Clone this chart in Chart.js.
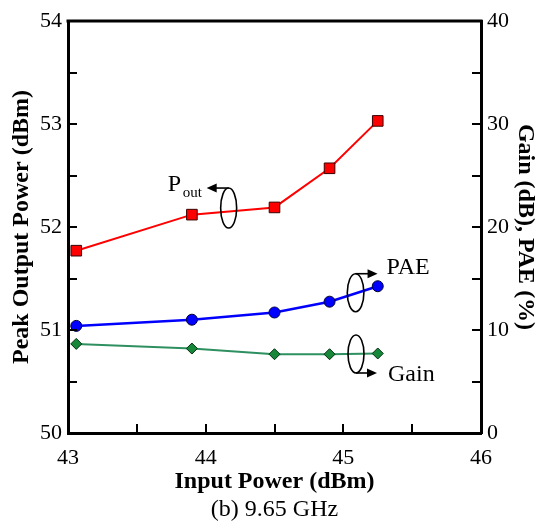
<!DOCTYPE html>
<html>
<head>
<meta charset="utf-8">
<script src="https://cdn.jsdelivr.net/npm/chart.js@4"></script>
<style>
  html, body { margin: 0; padding: 0; background: #fff; }
  #wrap { width: 545px; height: 527px; }
</style>
</head>
<body>
<div id="wrap"><canvas id="c" width="545" height="527"></canvas></div>
<script>
// ---- data ----
const inputPower = [43.06, 43.9, 44.5, 44.9, 45.25];
const poutValues = [51.77, 52.12, 52.19, 52.57, 53.03];
const paeValues  = [10.4, 11.0, 11.7, 12.75, 14.25];
const gainValues = [8.65, 8.2, 7.65, 7.65, 7.72];

const xTickStep = 0.5;      // labels only on integers
const yLeftTickStep = 0.5;  // labels only on integers
const yRightTickStep = 5;   // labels on multiples of 10

const xTitle = 'Input Power (dBm)';
const yLeftTitle = 'Peak Output Power (dBm)';
const yRightTitle = 'Gain (dB), PAE (%)';
const caption = '(b) 9.65 GHz';

const SERIF = '"Liberation Serif", "Times New Roman", serif';
Chart.defaults.font.family = SERIF;
Chart.defaults.color = '#000';

function pts(xs, ys) { return xs.map((x, i) => ({x, y: ys[i]})); }

const inwardTicks = {
  id: 'inwardTicks',
  afterDraw(chart) {
    const {ctx, chartArea: a, scales} = chart;
    ctx.save();
    ctx.strokeStyle = '#000';
    ctx.lineWidth = 2;
    const L = 9;
    scales.x.ticks.forEach(t => {
      const p = Math.round(scales.x.getPixelForValue(t.value));
      ctx.beginPath(); ctx.moveTo(p, a.bottom); ctx.lineTo(p, a.bottom - L); ctx.stroke();
    });
    scales.y.ticks.forEach(t => {
      const p = Math.round(scales.y.getPixelForValue(t.value));
      ctx.beginPath(); ctx.moveTo(a.left, p); ctx.lineTo(a.left + L, p); ctx.stroke();
    });
    scales.y1.ticks.forEach(t => {
      const p = Math.round(scales.y1.getPixelForValue(t.value));
      ctx.beginPath(); ctx.moveTo(a.right, p); ctx.lineTo(a.right - L, p); ctx.stroke();
    });
    // top frame
    ctx.lineWidth = 3;
    ctx.beginPath(); ctx.moveTo(a.left - 1.5, a.top); ctx.lineTo(a.right + 1.5, a.top); ctx.stroke();
    ctx.restore();
  }
};

function arrow(ctx, x0, y, x1) {
  const dir = Math.sign(x1 - x0);
  ctx.beginPath(); ctx.moveTo(x0, y); ctx.lineTo(x1 - dir * 6, y); ctx.stroke();
  ctx.beginPath();
  ctx.moveTo(x1, y);
  ctx.lineTo(x1 - dir * 10, y - 4.5);
  ctx.lineTo(x1 - dir * 10, y + 4.5);
  ctx.closePath(); ctx.fill();
}

const annotationsPlugin = {
  id: 'annots',
  afterDraw(chart) {
    const {ctx, scales} = chart;
    const X = v => scales.x.getPixelForValue(v);
    const YL = v => scales.y.getPixelForValue(v);
    const YR = v => scales.y1.getPixelForValue(v);
    ctx.save();
    ctx.strokeStyle = '#000';
    ctx.fillStyle = '#000';
    ctx.lineWidth = 1.6;
    ctx.textAlign = 'left';
    ctx.textBaseline = 'alphabetic';

    // Pout
    let cx = X(44.167), cy = YL(52.184), rx = 8, ry = 20;
    ctx.beginPath(); ctx.ellipse(cx, cy, rx, ry, 0, 0, Math.PI * 2); ctx.stroke();
    arrow(ctx, cx, cy - ry, cx - 22);
    ctx.font = '24px ' + SERIF;
    ctx.fillText('P', cx - 61, cy - ry + 3);
    ctx.font = '15px ' + SERIF;
    ctx.fillText('out', cx - 46, cy - ry + 9);

    // PAE
    cx = X(45.089); cy = YR(13.62); rx = 8.3; ry = 19;
    ctx.beginPath(); ctx.ellipse(cx, cy, rx, ry, 0, 0, Math.PI * 2); ctx.stroke();
    arrow(ctx, cx, cy - ry, cx + 22);
    ctx.font = '24px ' + SERIF;
    ctx.fillText('PAE', cx + 31, cy - ry);

    // Gain
    cx = X(45.092); cy = YR(7.67); rx = 8; ry = 19;
    ctx.beginPath(); ctx.ellipse(cx, cy, rx, ry, 0, 0, Math.PI * 2); ctx.stroke();
    arrow(ctx, cx, cy + ry, cx + 21);
    ctx.font = '24px ' + SERIF;
    ctx.fillText('Gain', cx + 32, cy + ry + 8);

    // caption
    ctx.textAlign = 'center';
    ctx.font = '24px ' + SERIF;
    const a = chart.chartArea;
    ctx.fillText(caption, (a.left + a.right) / 2, 516);
    ctx.restore();
  }
};

new Chart(document.getElementById('c'), {
  type: 'line',
  data: {
    datasets: [
      {
        label: 'Pout',
        data: pts(inputPower, poutValues),
        yAxisID: 'y',
        borderColor: '#ff0000',
        borderWidth: 2,
        backgroundColor: '#ff0000',
        pointStyle: 'rect',
        pointRadius: 7.5,
        pointBorderColor: '#3a0000',
        pointBorderWidth: 1,
        tension: 0
      },
      {
        label: 'PAE',
        data: pts(inputPower, paeValues),
        yAxisID: 'y1',
        borderColor: '#0000ff',
        borderWidth: 2.5,
        backgroundColor: '#0000ff',
        pointStyle: 'circle',
        pointRadius: 5.5,
        pointBorderColor: '#00003a',
        pointBorderWidth: 1,
        tension: 0
      },
      {
        label: 'Gain',
        data: pts(inputPower, gainValues),
        yAxisID: 'y1',
        borderColor: '#2e9060',
        borderWidth: 2,
        backgroundColor: '#17873a',
        pointStyle: 'rectRot',
        pointRadius: 5.5,
        pointBorderColor: '#003010',
        pointBorderWidth: 1,
        tension: 0
      }
    ]
  },
  options: {
    responsive: false,
    animation: false,
    devicePixelRatio: 1,
    layout: { padding: { top: 21, left: 0, right: 0, bottom: 0 } },
    plugins: { legend: { display: false }, tooltip: { enabled: false }, title: { display: false } },
    scales: {
      x: {
        type: 'linear',
        min: 43, max: 46,
        afterFit: s => { s.height = 94; },
        grid: { display: false, drawTicks: false },
        border: { display: true, color: '#000', width: 3 },
        ticks: {
          stepSize: xTickStep, autoSkip: false, maxRotation: 0, padding: 12,
          color: '#000', font: { family: SERIF, size: 22 },
          callback: v => Number.isInteger(v) ? String(v) : ''
        },
        title: {
          display: true, text: xTitle, color: '#000',
          font: { family: SERIF, size: 24, weight: 'bold' },
          padding: { top: 0, bottom: 31 }
        }
      },
      y: {
        type: 'linear', position: 'left',
        min: 50, max: 54,
        afterFit: s => { s.width = 68; },
        grid: { display: false, drawTicks: false },
        border: { display: true, color: '#000', width: 3 },
        ticks: {
          stepSize: yLeftTickStep, autoSkip: false, padding: 6,
          color: '#000', font: { family: SERIF, size: 22 },
          callback: v => Number.isInteger(v) ? String(v) : ''
        },
        title: {
          display: true, text: yLeftTitle, color: '#000',
          font: { family: SERIF, size: 24, weight: 'bold' },
          padding: { top: 7, bottom: 0 }
        }
      },
      y1: {
        type: 'linear', position: 'right',
        min: 0, max: 40,
        afterFit: s => { s.width = 64; },
        grid: { display: false, drawTicks: false },
        border: { display: true, color: '#000', width: 3 },
        ticks: {
          stepSize: yRightTickStep, autoSkip: false, padding: 6,
          color: '#000', font: { family: SERIF, size: 22 },
          callback: v => (v % 10 === 0) ? String(v) : ''
        },
        title: {
          display: true, text: yRightTitle, color: '#000',
          font: { family: SERIF, size: 24, weight: 'bold' },
          padding: { top: 5, bottom: 0 }
        }
      }
    }
  },
  plugins: [inwardTicks, annotationsPlugin]
});
</script>
</body>
</html>
